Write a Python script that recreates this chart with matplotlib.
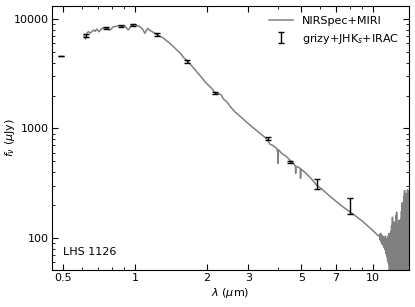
import numpy as np
import matplotlib
matplotlib.use('Agg')
import matplotlib.pyplot as plt
import matplotlib.ticker as ticker

# spectrum (NIRSpec+MIRI)
spec_wave = [0.61, 0.62, 0.63, 0.637, 0.65, 0.668, 0.68, 0.69, 0.706, 0.725,
             0.748, 0.77, 0.785, 0.811, 0.83, 0.851, 0.88, 0.908, 0.937, 0.968,
             0.993, 1.02, 1.05, 1.08, 1.10, 1.13, 1.15, 1.17, 1.20, 1.23,
             1.27, 1.31, 1.35, 1.40, 1.45, 1.50, 1.55, 1.60, 1.66, 1.72,
             1.82, 1.90, 1.97, 2.03, 2.10, 2.17, 2.25, 2.31, 2.36, 2.43,
             2.52, 2.63, 2.78, 2.94, 3.10, 3.30, 3.45, 3.60, 3.69, 3.80,
             3.94, 3.99, 4.00, 4.01, 4.15, 4.33, 4.48, 4.60, 4.70, 4.73,
             4.74, 4.75, 4.85, 4.94, 4.96, 4.97, 4.98, 5.2, 5.5, 5.8,
             6.1, 6.5, 7.03, 7.5, 8.0, 8.5, 9.1, 9.7, 10.3, 10.6]
spec_flux = [7030, 6560, 7500, 7650, 7450, 7930, 7700, 8100, 7650, 8220,
             8330, 8250, 7930, 8500, 8550, 8680, 8650, 8630, 7930, 8810,
             8940, 8700, 8500, 8000, 7400, 8220, 7900, 7770, 7500, 7250,
             7000, 6750, 6400, 6000, 5600, 5210, 4900, 4450, 4160, 3800,
             3300, 2950, 2670, 2500, 2330, 2130, 2080, 2020, 1850, 1760,
             1580, 1420, 1280, 1150, 1040, 930, 860, 793, 720, 700,
             660, 600, 481, 640, 590, 555, 515, 490, 464, 450,
             389, 450, 445, 434, 430, 350, 428, 395, 350, 305,
             280, 248, 215, 192, 174, 158, 141, 124, 110, 104]

# noisy long-wavelength MIRI tail
tail_wave = [10.70, 10.75, 10.80, 10.85, 10.90, 10.95, 11.00, 11.05, 11.10, 11.15,
             11.20, 11.25, 11.30, 11.35, 11.40, 11.45, 11.50, 11.55, 11.60, 11.65,
             11.70, 11.75, 11.80, 11.85, 11.90, 11.95, 12.00, 12.05, 12.10, 12.15,
             12.20, 12.25, 12.30, 12.35, 12.40, 12.45, 12.50, 12.55, 12.60, 12.65,
             12.70, 12.75, 12.80, 12.85, 12.90, 12.95, 13.00, 13.05, 13.10, 13.15,
             13.20, 13.25, 13.30, 13.35, 13.40, 13.45, 13.50, 13.55, 13.60, 13.65,
             13.70, 13.75, 13.80, 13.85, 13.90, 13.95, 14.00, 14.05, 14.10, 14.15, 14.20]
tail_flux = [108, 96, 110, 92, 106, 88, 104, 86, 102, 82,
             100, 78, 104, 72, 98, 68, 100, 62, 104, 58,
             110, 48, 100, 45, 115, 42, 130, 40, 155, 44,
             120, 40, 140, 42, 125, 40, 160, 38, 172, 40,
             130, 38, 120, 40, 145, 38, 135, 40, 150, 38,
             175, 40, 210, 38, 190, 40, 240, 38, 270, 40,
             230, 38, 255, 40, 250, 38, 275, 40, 260, 40, 270]

# photometry grizy + JHKs + IRAC
phot_wave = [0.489, 0.62, 0.755, 0.873, 0.978, 1.24, 1.654, 2.17, 3.61, 4.48, 5.80, 8.06]
phot_flux = [4590, 7030, 8220, 8630, 8810, 7240, 4110, 2110, 807, 498, 311, 197]
phot_err = [40, 200, 150, 150, 150, 220, 125, 65, 25, 12, 33, 33]

xtick_vals = [0.5, 1, 2, 3, 5, 7, 10]
xtick_labels = ['0.5', '1', '2', '3', '5', '7', '10']

fig = plt.figure(figsize=(4.15, 3.07), dpi=100)
ax = fig.add_axes([0.126, 0.1205, 0.8595, 0.86])

ax.plot(spec_wave + tail_wave, spec_flux + tail_flux, color='#808080', lw=1.1,
        label='NIRSpec+MIRI', zorder=2)
ax.errorbar(phot_wave, phot_flux, yerr=phot_err, fmt='none', ecolor='black',
            elinewidth=1.0, capsize=2.2, capthick=1.0, label='grizy+JHK$_s$+IRAC', zorder=3)

ax.set_xscale('log')
ax.set_yscale('log')
ax.set_xlim(0.449, 14.2)
ax.set_ylim(51, 13150)

ax.xaxis.set_major_locator(ticker.FixedLocator(xtick_vals))
ax.xaxis.set_major_formatter(ticker.FixedFormatter(xtick_labels))
ax.xaxis.set_minor_locator(ticker.LogLocator(base=10, subs=np.arange(2, 10) * 0.1 * 10, numticks=20))
ax.xaxis.set_minor_formatter(ticker.NullFormatter())
ax.yaxis.set_major_formatter(ticker.FuncFormatter(lambda v, p: '%d' % v))
ax.yaxis.set_minor_formatter(ticker.NullFormatter())

ax.tick_params(which='both', direction='in', top=True, right=True, labelsize=8, pad=2.5)
ax.tick_params(which='major', length=4, width=0.8)
ax.tick_params(which='minor', length=2, width=0.6)

ax.set_xlabel(r'$\lambda$ ($\mu$m)', fontsize=8, labelpad=2)
ax.set_ylabel(r'$f_\nu$ ($\mu$Jy)', fontsize=8)
ax.yaxis.set_label_coords(-0.098, 0.5)

ax.text(0.03, 0.055, 'LHS 1126', transform=ax.transAxes, fontsize=8)
ax.legend(loc='upper right', frameon=False, fontsize=8, handlelength=2.2,
          borderaxespad=0.5, labelspacing=0.5)

fig.savefig('out.png', dpi=100)
